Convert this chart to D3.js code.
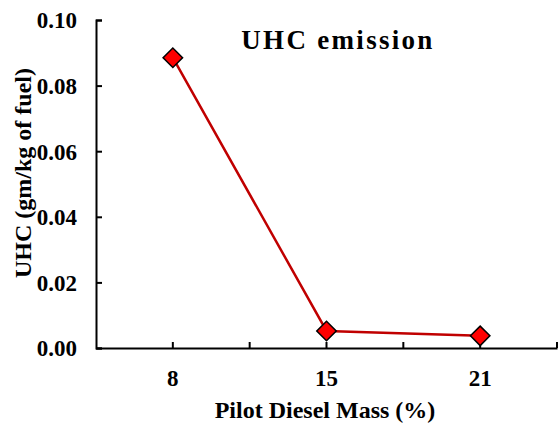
<!DOCTYPE html>
<html><head><meta charset="utf-8">
<script src="https://cdn.jsdelivr.net/npm/d3@7"></script>
<style>body{margin:0;background:#fff}svg{display:block}text{font-family:"Liberation Serif","Times New Roman",serif;font-weight:bold;fill:#000}</style>
</head><body>
<script>
const categories = ["8","15","21"];
const uhcValues = [0.0885, 0.0052, 0.0037];
const yTicks = [0, 0.02, 0.04, 0.06, 0.08, 0.10];
const title = "UHC emission";
const xLabel = "Pilot Diesel Mass (%)";
const yLabel = "UHC (gm/kg of fuel)";

const W = 558, H = 423;
const m = {left: 96, right: 1, top: 20, bottom: 75};
const svg = d3.select("body").append("svg").attr("width", W).attr("height", H);
const x = d3.scaleBand().domain(categories).range([m.left, W - m.right]).padding(0);
const y = d3.scaleLinear().domain([0, 0.10]).range([H - m.bottom, m.top]);

// y axis
const ya = svg.append("g").attr("transform", `translate(${m.left},0)`)
  .call(d3.axisLeft(y).tickValues(yTicks).tickFormat(d3.format(".2f")).tickSizeInner(-6).tickSizeOuter(-6).tickPadding(19));
ya.attr("font-family", null).attr("font-size", null);
ya.select(".domain").attr("stroke-width", 2);
ya.selectAll(".tick line").attr("stroke-width", 2);
ya.selectAll("text").style("font-size", "23px").attr("dy", "0.34em");

// x axis
const xa = svg.append("g").attr("transform", `translate(0,${H - m.bottom})`)
  .call(d3.axisBottom(x).tickSize(0).tickPadding(0));
xa.attr("font-family", null).attr("font-size", null);
xa.select(".domain").attr("stroke-width", 2);
xa.selectAll("text").style("font-size", "23px").attr("y", 38).attr("dy", 0);
// tick marks at each band center and boundary (inward)
const tickPos = [];
categories.forEach(c => { tickPos.push(x(c) + x.bandwidth()/2); tickPos.push(x(c) + x.bandwidth()); });
xa.selectAll("line.tk").data(tickPos).enter().append("line").attr("class","tk")
  .attr("x1", d => d).attr("x2", d => d).attr("y1", 0).attr("y2", -6)
  .attr("stroke", "#000").attr("stroke-width", 2);

// line
const pts = categories.map((c, i) => [x(c) + x.bandwidth()/2, y(uhcValues[i])]);
svg.append("path").datum(pts).attr("d", d3.line())
  .attr("fill", "none").attr("stroke", "#c00000").attr("stroke-width", 2.5);
svg.selectAll("path.mk").data(pts).enter().append("path").attr("class","mk")
  .attr("d", d3.symbol(d3.symbolSquare, 190)())
  .attr("transform", d => `translate(${d[0]},${d[1]}) rotate(45)`)
  .attr("fill", "#ff0000").attr("stroke", "#000").attr("stroke-width", 1.5);

// titles
svg.append("text").attr("x", 338).attr("y", 49).attr("text-anchor", "middle").style("font-size", "27px").style("letter-spacing","2.3px").text(title);
svg.append("text").attr("x", 325).attr("y", 418).attr("text-anchor", "middle").style("font-size", "24px").text(xLabel);
svg.append("text").attr("transform", "translate(31,173) rotate(-90)").attr("text-anchor", "middle").style("font-size", "24px").text(yLabel);
</script>
</body></html>
